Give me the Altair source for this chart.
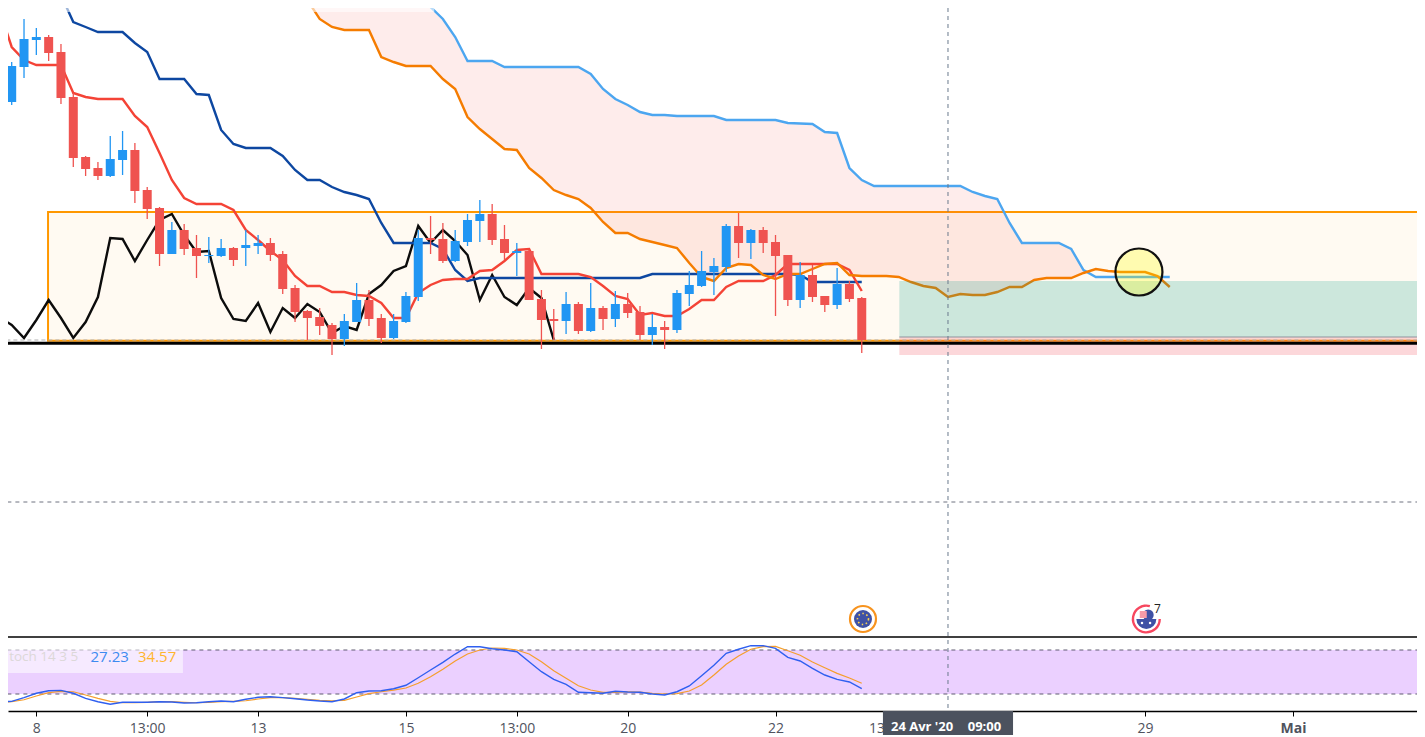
import json
import altair as alt
import pandas as pd

# ---- candles, expressed in points above the support line -------------------
candle_open = [253,240,275,302,305,290,245,185,174,166,182,192,152,134,88,112,94,86,86,94,94,96,99,88,54,31,25,17,3,20,42,24,4,20,45,104,103,81,100,121,128,103,89,91,43,23,21,38,11,34,23,38,30,7,15,12,48,56,70,75,116,99,112,100,87,42,67,46,37,58,44]
candle_high = [257,280,323,314,307,298,249,186,180,206,211,199,155,135,120,118,107,105,103,95,112,107,104,91,57,32,34,19,28,59,52,28,28,50,112,126,119,112,128,142,138,117,99,92,52,33,50,40,59,36,51,49,36,28,21,52,71,91,84,118,129,113,115,107,87,80,77,46,74,61,45]
candle_low = [237,237,264,287,281,238,175,166,162,165,167,139,123,76,88,87,64,79,85,76,76,88,81,48,20,2,7,-13,-4,20,16,-1,3,19,41,88,79,80,96,100,97,82,66,42,-7,2,8,8,10,12,15,24,2,-3,-7,9,36,55,47,70,84,83,89,26,36,34,40,30,33,40,-11]
candle_close = [240,276,303,305,289,244,184,173,166,183,192,151,133,88,112,93,86,87,94,82,97,99,87,53,30,24,16,3,21,42,23,4,21,46,104,102,81,101,122,128,102,89,91,42,22,21,38,11,34,23,38,29,7,15,12,49,57,71,76,116,99,112,99,86,42,67,45,37,58,43,2]

# ---- Ichimoku lines ---------------------------------------------------------
tenkan = [332,295,282,277,277,277,249,245,243,243,243,226,215,189,162,144,138,138,138,132,112,102,91,82,66,56,56,50,50,47,46,39,24,24,49,57,62,63,63,71,72,81,92,93,68,68,68,68,65,56,46,43,27,29,26,26,33,42,42,55,61,61,61,67,78,78,78,78,78,72,51]
kijun = [347,320,315,310,310,310,299,290,263,263,263,248,247,212,198,194,194,194,186,172,162,162,155,150,147,143,119,99,99,99,99,93,72,61,64,64,64,64,64,64,64,64,64,64,64,64,64,64,68,68,68,68,68,68,68,68,68,68,68,68,67,60,60,60,60,60]
chikou = [25,17,4,22,42,24,4,20,45,104,103,81,102,122,128,107,90,91,44,23,21,39,10,34,24,38,30,9,16,12,48,57,71,76,116,99,112,101,87,42,67,45,37,54,44,2]
senkou_a = [342,323,315,312,312,312,285,280,276,276,276,263,253,225,213,203,193,192,174,164,152,147,143,134,120,109,109,103,100,97,94,79,65,61,74,78,77,67,63,68,68,73,78,79,67,66,66,66,65,60,56,54,45,48,47,47,50,55,55,62,64,64,64,69,73,71,70,70,70,66,55]
senkou_b = [400,400,400,400,400,400,390,380,365,350,335,323,305,281,281,281,275,275,275,275,275,275,275,268,253,243,237,230,227,227,226,226,226,226,222,222,222,222,222,219,218.5,218,210,209,174,162,156,156,156,156,156,156,156,156,150,146,143,119,99,99,99,99,93,72,65,65,65,65,65,65,65]

# ---- Stochastic -------------------------------------------------------------
stoch_k = [9.1,10,15,21,24.5,25,21,14,9.5,6,8.7,8.7,8.7,9.5,9,7.7,8,9.5,10.4,9.5,12.8,15.5,16.3,15,13.6,11.8,10.4,9.5,13.2,21.8,24,24.5,27.2,31.9,42.2,52.7,63.2,74.5,84.5,84.5,81.8,80,77.7,64,50.4,40,33.2,22.3,21.8,21,23.7,22.7,22.3,20,18.6,23.1,30.9,45,59.1,75.5,81,85.9,85.9,82.3,70,65,55,45.9,40,36.4,27.23]
stoch_d = [9.1,9.5,12.2,17.3,21.8,23.7,23.1,18.6,14.1,10,8.1,8.1,8.7,9.5,9.5,8.7,8.1,8.7,9.5,10,10.8,13.2,15,15,14.1,12.8,11.4,10.8,11.4,15.9,20.4,23.1,25.4,28.2,34.6,43.6,53.7,65,74.5,80,82.7,82.3,80,74.5,64,51.8,41.4,31.3,25.4,22.3,22.3,23.1,22.7,20.9,20,20.4,24.1,32.3,45.9,60.5,71.8,81,84.5,85,79,72.8,63.6,55.9,48.2,41.8,34.57]

# ---- time axis --------------------------------------------------------------
tick_bars = [2, 11, 20, 32, 41, 50, 62, 71, 92, 104]
tick_labels = ["8", "13:00", "13", "15", "13:00", "20", "22", "13:00", "29", "Mai"]

UP = "#2196f3"
DOWN = "#ef5350"
FONT = "Open Sans"

X_SCALE = alt.Scale(domain=[-0.3, 114.07], nice=False, zero=False, padding=0)
Y_MAIN = alt.Scale(domain=[-369, 334], nice=False, zero=False, padding=0)
Y_STOCH = alt.Scale(domain=[-3.18, 955.5], nice=False, zero=False, padding=0)

label_lookup = json.dumps({str(b): t for b, t in zip(tick_bars, tick_labels)})
X_AXIS = alt.Axis(
    values=tick_bars,
    labelExpr=f"{label_lookup}[datum.value]",
    grid=False,
    domainColor="#000000",
    domainWidth=1.4,
    tickColor="#000000",
    tickSize=5,
    labelPadding=5,
    labelFontSize=14,
    labelFont=FONT,
    labelColor="#50535e",
    labelFontWeight=alt.expr("datum.value == 104 ? 'bold' : 'normal'"),
    labelOverlap=False,
    labelFlush=False,
)


def x_enc(field="i"):
    return alt.X(f"{field}:Q", scale=X_SCALE, axis=X_AXIS, title=None)


def y_enc(field="v", scale=Y_MAIN):
    return alt.Y(f"{field}:Q", scale=scale, axis=None)


def series(values, start):
    return pd.DataFrame({"i": list(range(start, start + len(values))), "v": values})


def line(values, start, color, width=2.4, scale=Y_MAIN):
    return (
        alt.Chart(series(values, start))
        .mark_line(color=color, strokeWidth=width, interpolate="linear")
        .encode(x=x_enc(), y=y_enc("v", scale))
    )


def box(x0, x1, y0, y1, fill, opacity=1.0, scale=Y_MAIN, **kw):
    data = pd.DataFrame({"a": [x0], "b": [x1], "c": [y0], "d": [y1]})
    return (
        alt.Chart(data)
        .mark_rect(fill=fill, fillOpacity=opacity, **kw)
        .encode(x=x_enc("a"), x2="b:Q", y=y_enc("c", scale), y2="d:Q")
    )


def hrule(level, color, width=1.0, dash=None, scale=Y_MAIN, x0=-1, x1=116):
    data = pd.DataFrame({"a": [x0], "b": [x1], "c": [level]})
    kw = {"strokeDash": dash} if dash else {}
    return (
        alt.Chart(data)
        .mark_rule(color=color, strokeWidth=width, **kw)
        .encode(x=x_enc("a"), x2="b:Q", y=y_enc("c", scale))
    )


def label(text, bar, level, color, size=14, align="left", weight="normal"):
    data = pd.DataFrame({"a": [bar], "c": [level], "t": [text]})
    return (
        alt.Chart(data)
        .mark_text(color=color, fontSize=size, align=align, baseline="middle", font=FONT, fontWeight=weight)
        .encode(x=x_enc("a"), y=y_enc("c"), text="t:N")
    )


def disc(bar, level, diameter, shape="circle", **kw):
    data = pd.DataFrame({"a": [bar], "c": [level]})
    return (
        alt.Chart(data)
        .mark_point(shape=shape, size=diameter * diameter, **kw)
        .encode(x=x_enc("a"), y=y_enc("c"))
    )


def arc(bar, level, start, end, inner, outer, color):
    data = pd.DataFrame({"a": [bar], "c": [level]})
    return (
        alt.Chart(data)
        .mark_arc(theta=start, theta2=end, innerRadius=inner, outerRadius=outer, color=color)
        .encode(x=x_enc("a"), y=y_enc("c"))
    )


cloud = series(senkou_a, 24).assign(b=senkou_b)
cloud = cloud[cloud["i"] <= 87]
cloud_area = (
    alt.Chart(cloud)
    .mark_area(color="#f44336", opacity=0.1, interpolate="linear")
    .encode(x=x_enc(), y=y_enc("b"), y2="v:Q")
)

candles = pd.DataFrame(
    {
        "i": list(range(-1, -1 + len(candle_open))),
        "o": candle_open,
        "h": candle_high,
        "l": candle_low,
        "c": candle_close,
    }
)
candles["dir"] = ["up" if c > o else "down" for o, c in zip(candle_open, candle_close)]
color_enc = alt.Color("dir:N", scale=alt.Scale(domain=["up", "down"], range=[UP, DOWN]), legend=None)
wicks = (
    alt.Chart(candles)
    .mark_rule(strokeWidth=1.3)
    .encode(x=x_enc(), y=y_enc("h"), y2="l:Q", color=color_enc)
)
bodies = (
    alt.Chart(candles)
    .mark_bar(size=9, cornerRadius=0)
    .encode(x=x_enc(), y=y_enc("o"), y2="c:Q", color=color_enc)
)

crosshair = (
    alt.Chart(pd.DataFrame({"a": [76.0], "c": [334], "d": [-374]}))
    .mark_rule(color="#6a7a8c", strokeWidth=1, strokeDash=[4, 4])
    .encode(x=x_enc("a"), y=y_enc("c"), y2="d:Q")
)

layers = [
    # pane borders and stochastic band
    hrule(-295, "#000000", 1.4),
    box(-1, 116, 80, 20, "#9915ff", 0.2, Y_STOCH),
    hrule(80, "#5f5a70", 1, [4, 4], Y_STOCH),
    hrule(20, "#5f5a70", 1, [4, 4], Y_STOCH),
    # range box and cloud
    box(2.95, 117, 130, 1.3, "#ff9800", 0.05, stroke="#ff9800", strokeWidth=2),
    cloud_area,
    hrule(-160, "#6f7280", 1, [4, 4]),
    # ichimoku lines
    line(chikou, -1, "#0c0c0c"),
    line(kijun, 4, "#0d47a1"),
    line(tenkan, -1, "#f44336"),
    line(senkou_b, 24, "#4ca6f0"),
    line(senkou_a, 24, "#f57c00"),
    # long position tool
    box(72.05, 116, 61, 5, "#009a85", 0.2),
    box(72.05, 116, 5, -13, "#f23645", 0.2),
    hrule(5, "#8f939e", 1, x0=72.05),
    # support lines
    hrule(-1.3, "#000000", 3),
    hrule(2, "#b2b2b2", 1.2, [4, 3]),
    # candles
    wicks,
    bodies,
    # highlighted circle
    disc(91.5, 70, 47, fill="#ffff00", fillOpacity=0.27, stroke="#111111", strokeWidth=2.2, strokeOpacity=1),
    crosshair,
    # economic event icons
    disc(69.1, -277, 26, filled=False, stroke="#f7931e", strokeWidth=2.2, opacity=1),
    disc(69.1, -277, 18, fill="#3f51a5", strokeWidth=0, fillOpacity=1),
    disc(69.1, -277, 11, filled=False, stroke="#ffd54f", strokeWidth=1.6, strokeDash=[1.5, 2.6], opacity=1),
    arc(92.1, -277, 1.57, 6.55, 12.2, 14.6, "#f7475f"),
    arc(92.1, -277, 1.57, 4.71, 0, 10, "#3f51a5"),
    disc(92.25, -273, 11, fill="#3f51a5", strokeWidth=0, fillOpacity=1),
    disc(91.85, -272.5, 7, shape="square", fill="#f59aa8", strokeWidth=0, fillOpacity=1),
    disc(91.75, -281, 2.5, fill="#ffffff", strokeWidth=0, fillOpacity=1),
    disc(92.4, -281, 2.5, fill="#ffffff", strokeWidth=0, fillOpacity=1),
    label("7", 93.0, -267, "#222222", 12, "center"),
    # stochastic lines and legend
    line(stoch_d, -1, "#f59e2c", 1.2, Y_STOCH),
    line(stoch_k, -1, "#2f5ff0", 1.4, Y_STOCH),
    box(-1, 13.9, -301, -331, "#ffffff", 0.55),
    label("toch 14 3 5", 5.4, -315, "#dcd8d8", 13.5, "right"),
    label("27.23", 6.4, -315, "#3d8bf0", 15),
    label("34.57", 10.25, -315, "#ffb52e", 15),
    # legend strip at the top
    box(-1, 34.3, 334, 330, "#ffffff", 0.6),
    # crosshair time label
    box(70.72, 81.28, -369, -395, "#4c525e"),
    label("24 Avr '20", 71.37, -385, "#ffffff", 13, weight="bold"),
    label("09:00", 77.6, -385, "#ffffff", 13, weight="bold"),
]

chart = (
    alt.layer(*layers)
    .resolve_scale(y="independent")
    .properties(
        width=1409,
        height=703,
        background="#ffffff",
        autosize=alt.AutoSizeParams(type="none"),
        padding={"left": 0, "right": 0, "top": 0, "bottom": 24},
    )
    .configure_view(stroke=None)
)

chart.save("out.html", embed_options={"renderer": "svg", "actions": False})
